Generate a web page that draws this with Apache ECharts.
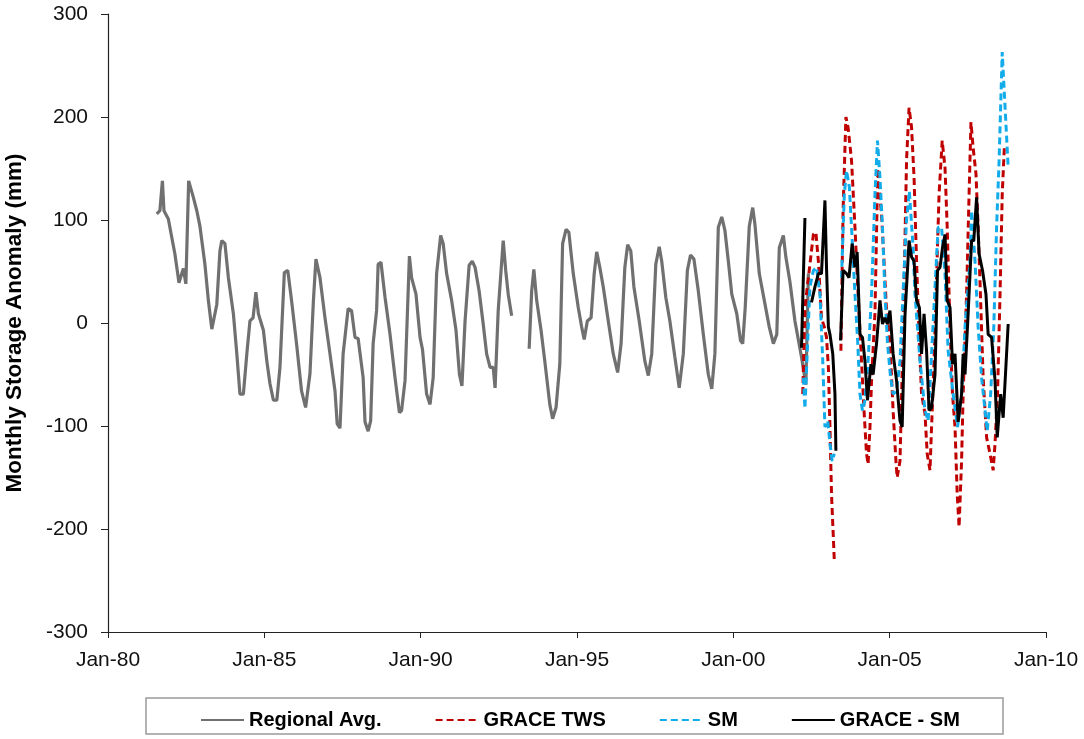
<!DOCTYPE html>
<html>
<head>
<meta charset="utf-8">
<script src="https://cdn.jsdelivr.net/npm/echarts@6/dist/echarts.min.js"></script>
<style>
    html, body {margin: 0; padding: 0; background: #fff;}
    #chart {width: 1084px; height: 739px;}
</style>
</head>
<body>
<div id="chart"></div>
<script>
// x values are decimal years, y values in mm; null = gap in the record

// Regional Avg.
var regionalYears = [
    1981.56, 1981.66, 1981.74, 1981.79, 1981.93, 1982.04, 1982.14, 1982.27, 1982.33, 1982.41, 1982.49,
    1982.58, 1982.73, 1982.84, 1982.94, 1983.10, 1983.21, 1983.32, 1983.48,
    1983.58, 1983.64, 1983.74, 1983.85, 1984.01, 1984.12, 1984.22, 1984.33, 1984.44, 1984.54, 1984.64,
    1984.73, 1984.81, 1984.97, 1985.08, 1985.18, 1985.29, 1985.40, 1985.50,
    1985.64, 1985.75, 1985.87, 1986.03, 1986.19, 1986.32, 1986.46,
    1986.57, 1986.65, 1986.78, 1986.94, 1987.10, 1987.26, 1987.33, 1987.42, 1987.52,
    1987.68, 1987.79, 1987.90, 1988.00, 1988.16, 1988.22, 1988.32, 1988.40, 1988.48, 1988.59,
    1988.64, 1988.73, 1988.86, 1989.02, 1989.18, 1989.32, 1989.39, 1989.50,
    1989.64, 1989.71, 1989.85, 1989.98, 1990.06, 1990.19, 1990.30, 1990.40,
    1990.51, 1990.64, 1990.72, 1990.83, 1990.99, 1991.13, 1991.24, 1991.32, 1991.42,
    1991.55, 1991.65, 1991.74, 1991.87, 1992.00, 1992.11, 1992.22, 1992.32, 1992.38, 1992.48,
    1992.64, 1992.72, 1992.80, 1992.91, 1993.20,
    1993.47, 1993.55, 1993.62, 1993.71, 1993.85, 1993.97, 1994.13, 1994.22, 1994.33, 1994.45,
    1994.54, 1994.65, 1994.74, 1994.88, 1995.04, 1995.15, 1995.23, 1995.33, 1995.45,
    1995.55, 1995.63, 1995.73, 1995.84, 1996.00, 1996.16, 1996.30, 1996.41,
    1996.53, 1996.62, 1996.72, 1996.82, 1996.99, 1997.17, 1997.28, 1997.39,
    1997.52, 1997.63, 1997.71, 1997.84, 1997.97, 1998.13, 1998.27, 1998.40,
    1998.53, 1998.63, 1998.74, 1998.88, 1999.04, 1999.20, 1999.31, 1999.41,
    1999.52, 1999.63, 1999.73, 1999.84, 1999.95, 2000.11, 2000.23, 2000.30, 2000.38,
    2000.51, 2000.62, 2000.69, 2000.83, 2000.99, 2001.15, 2001.28, 2001.39,
    2001.47, 2001.60, 2001.68, 2001.81, 2001.97, 2002.18, 2002.32, 2002.40
];
var regionalValues = [
    106, 109, 138, 109, 101, 83, 67, 39, 40, 53, 38,
    138, 122, 109, 94, 57, 22, -6, 18,
    70, 80, 77, 44, 9, -30, -69, -69, -30, 2, 5,
    30, 9, -7, -37, -59, -75, -75, -43,
    49, 51, 22, -20, -66, -82, -49,
    22, 62, 44, 5, -30, -66, -98, -102, -30,
    14, 12, -14, -15, -53, -96, -105, -95, -20, 12,
    57, 59, 25, -11, -53, -87, -85, -56,
    65, 44, 28, -14, -26, -69, -79, -53,
    48, 85, 77, 48, 22, -7, -50, -61, 2,
    56, 60, 54, 31, -1, -30, -43, -43, -63, 12,
    80, 51, 28, 7, null,
    -25, 31, 52, 22, -7, -37, -79, -93, -82, -40,
    77, 91, 88, 48, 15, -4, -16, 2, 5,
    48, 69, 54, 35, 2, -30, -48, -20,
    54, 76, 70, 35, 2, -37, -51, -30,
    57, 74, 60, 25, 2, -33, -63, -30,
    51, 66, 62, 31, -11, -50, -64, -30,
    93, 103, 90, 60, 28, 9, -17, -20, 15,
    94, 112, 96, 48, 22, -4, -20, -11,
    73, 85, 64, 40, 2, -33, -60, 48
];

// GRACE TWS
var twsYears = [
    2002.22, 2002.29, 2002.56, 2002.64, 2002.72, 2002.82, 2002.91, 2002.98, 2003.04, 2003.09, 2003.14, 2003.23, 2003.33,
    2003.44, 2003.51, 2003.60, 2003.67, 2003.78, 2003.89, 2003.99, 2004.10, 2004.18, 2004.26, 2004.31, 2004.37, 2004.42,
    2004.53, 2004.62, 2004.75, 2004.90, 2005.01, 2005.11, 2005.20, 2005.24, 2005.33, 2005.43,
    2005.54, 2005.62, 2005.70, 2005.78, 2005.86, 2005.95, 2006.02, 2006.13, 2006.20, 2006.29, 2006.34, 2006.42,
    2006.50, 2006.58, 2006.68, 2006.77, 2006.84, 2006.93, 2007.01, 2007.09, 2007.16, 2007.22, 2007.30, 2007.35,
    2007.46, 2007.54, 2007.60, 2007.67, 2007.76, 2007.83, 2007.92, 2007.99, 2008.10, 2008.21, 2008.31, 2008.37,
    2008.45, 2008.53, 2008.60, 2008.67
];
var twsValues = [
    -69, 15, 86, 88, 60, 5, -4, -14, -43, -101, -166, -231, null,
    -27, 109, 200, 190, 158, 93, 28, -37, -85, -127, -137, -101, -56,
    10, 150, 100, 12, -20, -85, -134, -150, -134, -10,
    158, 209, 190, 141, 60, -20, -69, -88, -127, -143, -101, -37,
    44, 125, 177, 151, 93, -4, -69, -101, -166, -198, -134, -69,
    28, 125, 195, 170, 145, 93, 12, -53, -111, -127, -143, -117,
    -69, 28, 125, 172
];

// SM
var smYears = [
    2002.24, 2002.29, 2002.45, 2002.56, 2002.66, 2002.77, 2002.86, 2002.93, 2003.02, 2003.09, 2003.16, 2003.23, 2003.33,
    2003.46, 2003.55, 2003.62, 2003.71, 2003.78, 2003.89, 2003.98, 2004.05, 2004.13, 2004.21, 2004.31,
    2004.42, 2004.53, 2004.61, 2004.69, 2004.77, 2004.85, 2004.93, 2005.03, 2005.11, 2005.22, 2005.33,
    2005.43, 2005.54, 2005.63, 2005.75, 2005.81, 2005.97, 2006.13, 2006.23, 2006.34,
    2006.55, 2006.66, 2006.77, 2006.87, 2007.03, 2007.17, 2007.30, 2007.41,
    2007.57, 2007.62, 2007.73, 2007.83, 2007.94, 2008.05, 2008.12, 2008.23, 2008.33,
    2008.42, 2008.50, 2008.60, 2008.69, 2008.79
];
var smValues = [
    -53, -83, 35, 51, 54, 28, -37, -101, -95, -117, -134, -127, null,
    44, 125, 148, 132, 93, 28, -20, -69, -85, -75, -37,
    28, 125, 177, 141, 93, 28, -20, -53, -69, -66, -37,
    31, 100, 128, 73, 28, -37, -85, -95, -30,
    93, 93, 48, -27, -69, -101, -69, -4,
    60, 109, 60, -4, -53, -85, -105, -69, -4,
    93, 158, 263, 210, 151
];

// GRACE - SM
var diffYears = [
    2002.18, 2002.29, 2002.40,
    2002.50, 2002.61, 2002.72, 2002.82, 2002.93, 2002.98, 2003.04, 2003.09, 2003.18, 2003.25, 2003.28, 2003.35,
    2003.43, 2003.51, 2003.62, 2003.70, 2003.80, 2003.89, 2003.96, 2004.05, 2004.13, 2004.21, 2004.29, 2004.35, 2004.40, 2004.47,
    2004.58, 2004.69, 2004.77, 2004.85, 2004.93, 2005.01, 2005.11, 2005.22, 2005.33, 2005.40, 2005.49,
    2005.62, 2005.70, 2005.78, 2005.86, 2005.95, 2006.02, 2006.10, 2006.18, 2006.26, 2006.34, 2006.45,
    2006.53, 2006.61, 2006.69, 2006.77, 2006.84, 2006.93, 2007.01, 2007.09, 2007.19, 2007.30, 2007.35, 2007.41,
    2007.51, 2007.62, 2007.69, 2007.78, 2007.86, 2007.97, 2008.08, 2008.15, 2008.26, 2008.37, 2008.44,
    2008.55, 2008.63, 2008.79
];
var diffValues = [
    -24, 102, null,
    20, 35, 48, 48, 119, 54, -4, -11, -30, -69, -124, null,
    -17, 51, 48, 44, 77, 54, 69, -11, -14, -37, -75, -56, -40, -50,
    -20, 22, -1, 5, -1, 12, -30, -56, -95, -101, 7,
    80, 64, 60, 22, 15, -30, 9, -27, -85, -82, -50,
    51, 54, 73, 86, 22, 15, -40, -30, -96, -69, -30, -50,
    9, 80, 80, 122, 67, 51, 28, -11, -14, -56, -111,
    -69, -92, -1
];

var yTicks = {min: -300, max: 300, interval: 100};
var xTicks = {min: 1980, max: 2010, interval: 5};

function pairs(xs, ys) {
    var out = [];
    for (var i = 0; i < xs.length; i++) {
        out.push([xs[i], ys[i] === null ? '-' : ys[i]]);
    }
    return out;
}

var chart = echarts.init(document.getElementById('chart'));
var font = 'Liberation Sans, Arial, sans-serif';

var option = {
    backgroundColor: '#fff',
    animation: false,
    grid: {
        left: 108,
        right: 38,
        top: 14,
        bottom: 107,
        containLabel: false,
        outerBoundsMode: 'none'
    },
    legend: {
        left: 195,
        top: 705,
        itemWidth: 43,
        itemHeight: 12,
        itemGap: 53,
        itemStyle: {opacity: 0},
        textStyle: {
            fontFamily: font,
            fontSize: 20,
            fontWeight: 'bold',
            color: '#000'
        },
        data: ['Regional Avg.', 'GRACE TWS', 'SM', 'GRACE - SM']
    },
    graphic: [{
        type: 'rect',
        shape: {x: 146, y: 698, width: 857, height: 36},
        style: {fill: 'none', stroke: '#9a9a9a', lineWidth: 1.5},
        silent: true
    }],
    xAxis: {
        type: 'value',
        min: xTicks.min,
        max: xTicks.max,
        interval: xTicks.interval,
        axisLine: {onZero: false, lineStyle: {color: '#222', width: 1.2}},
        axisTick: {show: true, inside: false, length: 6, lineStyle: {color: '#222'}},
        splitLine: {show: false},
        axisLabel: {
            margin: 18,
            fontFamily: font,
            fontSize: 21,
            color: '#111',
            formatter: function (v) {
                return 'Jan-' + String(v).slice(2);
            }
        }
    },
    yAxis: {
        type: 'value',
        min: yTicks.min,
        max: yTicks.max,
        interval: yTicks.interval,
        name: 'Monthly Storage Anomaly (mm)',
        nameLocation: 'middle',
        nameGap: 82,
        nameTextStyle: {
            fontFamily: font,
            fontSize: 22.5,
            fontWeight: 'bold',
            color: '#000'
        },
        axisLine: {show: true, onZero: false, lineStyle: {color: '#222', width: 1.2}},
        axisTick: {show: true, inside: false, length: 7, lineStyle: {color: '#222'}},
        splitLine: {show: false},
        axisLabel: {
            margin: 20,
            fontFamily: font,
            fontSize: 21,
            color: '#111'
        }
    },
    series: [
        {
            name: 'Regional Avg.',
            type: 'line',
            symbol: 'none',
            connectNulls: false,
            lineStyle: {color: '#707070', width: 3.2},
            itemStyle: {color: '#707070'},
            data: pairs(regionalYears, regionalValues)
        },
        {
            name: 'GRACE TWS',
            type: 'line',
            symbol: 'none',
            connectNulls: false,
            lineStyle: {color: '#c00000', width: 3, type: [7, 4]},
            itemStyle: {color: '#c00000'},
            data: pairs(twsYears, twsValues)
        },
        {
            name: 'SM',
            type: 'line',
            symbol: 'none',
            connectNulls: false,
            lineStyle: {color: '#12acea', width: 3, type: [7, 4]},
            itemStyle: {color: '#12acea'},
            data: pairs(smYears, smValues)
        },
        {
            name: 'GRACE - SM',
            type: 'line',
            symbol: 'none',
            connectNulls: false,
            lineStyle: {color: '#000', width: 3},
            itemStyle: {color: '#000'},
            data: pairs(diffYears, diffValues)
        }
    ]
};
chart.setOption(option);
</script>
</body>
</html>
